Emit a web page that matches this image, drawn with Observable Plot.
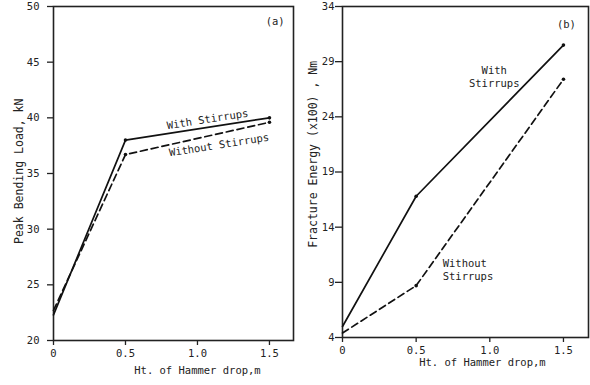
<!DOCTYPE html>
<html>
<head>
<meta charset="utf-8">
<script src="https://cdn.jsdelivr.net/npm/d3@7"></script>
<script src="https://cdn.jsdelivr.net/npm/@observablehq/plot@0.6"></script>
<style>
  html, body { margin: 0; padding: 0; background: #fff; }
  #wrap { position: relative; width: 590px; height: 385px; overflow: hidden; }
  #pa, #pb { position: absolute; top: 0; }
  #pa { left: 0; }
  #pb { left: 290px; }
  svg { background: transparent !important; }
</style>
</head>
<body>
<div id="wrap"><div id="pa"></div><div id="pb"></div></div>
<script>
const heights = [0, 0.5, 1.5];
const loadWith = [22.3, 38.0, 40.0];
const loadWithout = [22.7, 36.7, 39.6];
const energyWith = [5.0, 16.8, 30.5];
const energyWithout = [4.4, 8.7, 27.4];
const xTicks = [0, 0.5, 1.0, 1.5];
const loadTicks = [20, 25, 30, 35, 40, 45, 50];
const energyTicks = [4, 9, 14, 19, 24, 29, 34];
const xLabel = "Ht. of Hammer drop,m";
const yLabelA = [{text: "Peak Bending Load, kN", y: 35.2}];
const yLabelB = [{text: "Fracture Energy (x100) , Nm", y: 20.6}];
const notesA = [
  {text: "With Stirrups", x: 1.07, y: 39.85},
  {text: "Without Stirrups", x: 1.15, y: 37.55}
];
const notesBMiddle = [
  {text: "With\nStirrups", x: 1.03, y: 27.7}
];
const notesBStart = [
  {text: "Without\nStirrups", x: 0.68, y: 10.2}
];

const FONT = "'DejaVu Sans Mono', 'Liberation Mono', monospace";
const fmtX = d => d === 0 ? "0" : d.toFixed(1);

function panel(ys1, ys2, yDomain, yTicks, yLabel, noteMarks, tag, tagX, tagY, opt) {
  const solid = heights.map((h, i) => ({x: h, y: ys1[i]}));
  const dashed = heights.map((h, i) => ({x: h, y: ys2[i]}));
  return Plot.plot({
    width: 300,
    height: 385,
    marginLeft: opt.ml,
    marginRight: opt.mr,
    marginTop: opt.mt,
    marginBottom: opt.mb,
    style: {fontFamily: FONT, fontSize: "10px", color: "#222", background: "transparent"},
    x: {domain: [0, opt.xmax]},
    y: {domain: yDomain},
    marks: [
      Plot.frame({stroke: "#222", strokeWidth: 1.6}),
      Plot.axisY({ticks: yTicks, tickSize: opt.yts, tickPadding: opt.ytp, tickFormat: d => String(d),
        label: null, fontSize: 10.5, strokeWidth: 1.3}),
      Plot.text(yLabel, {y: "y", text: "text", frameAnchor: "left", dx: opt.yldx, rotate: -90,
        textAnchor: "middle", fontSize: 11.5}),
      Plot.axisX({ticks: xTicks, tickSize: 5, tickPadding: 4, tickFormat: fmtX, label: null,
        fontSize: 10.5, strokeWidth: 1.3}),
      Plot.text([xLabel], {x: opt.xlx, frameAnchor: "bottom", dy: opt.xldy, text: d => d, fontSize: 10.5}),
      Plot.line(solid, {x: "x", y: "y", stroke: "#111", strokeWidth: 1.7}),
      Plot.line(dashed, {x: "x", y: "y", stroke: "#111", strokeWidth: 1.7, strokeDasharray: "7,4"}),
      Plot.dot(solid.slice(1), {x: "x", y: "y", r: 1.8, fill: "#111"}),
      Plot.dot(dashed.slice(1), {x: "x", y: "y", r: 1.8, fill: "#111"}),
      ...noteMarks,
      Plot.text([tag], {x: tagX, y: tagY, text: d => d, fontSize: 10.5})
    ]
  });
}

const marksA = [
  Plot.text(notesA, {x: "x", y: "y", text: "text", rotate: -9, textAnchor: "middle", fontSize: 10.5})
];
const marksB = [
  Plot.text(notesBMiddle, {x: "x", y: "y", text: "text", textAnchor: "middle", lineHeight: 1.3, fontSize: 10.5}),
  Plot.text(notesBStart, {x: "x", y: "y", text: "text", textAnchor: "start", lineHeight: 1.3, fontSize: 10.5})
];

document.getElementById("pa").append(panel(loadWith, loadWithout, [20, 50], loadTicks, yLabelA, marksA, "(a)", 1.54, 48.6,
  {ml: 53, mr: 7, mt: 6, mb: 45, xmax: 1.667, yts: 6, ytp: 8, yldx: -34, xlx: 1.0, xldy: 33}));
document.getElementById("pb").append(panel(energyWith, energyWithout, [4, 34], energyTicks, yLabelB, marksB, "(b)", 1.52, 32.4,
  {ml: 52, mr: 2, mt: 6, mb: 48, xmax: 1.67, yts: 7, ytp: 1, yldx: -29, xlx: 0.95, xldy: 28}));
</script>
</body>
</html>
